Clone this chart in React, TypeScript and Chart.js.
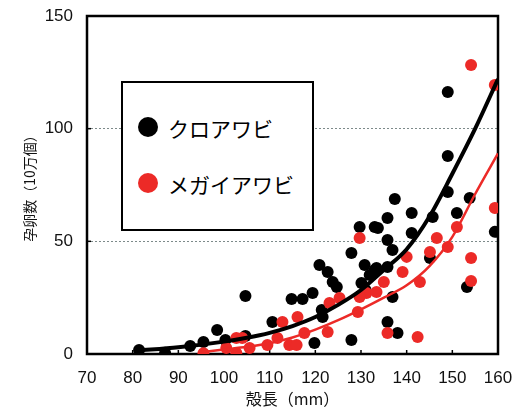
import React, { useEffect, useRef } from "react";
import { Chart, registerables } from "chart.js";

Chart.register(...registerables);

// クロアワビ (black) observations
const blackLength = [81.4, 87.1, 92.6, 95.5, 98.5, 100.3, 104.7, 104.7, 110.6, 114.8, 117.2, 119.4, 120.9, 122.7, 123.8, 124.7, 121.4, 121.6, 119.8, 127.9, 129.7, 133.0, 127.9, 130.8, 131.9, 133.4, 149.0, 149.0, 149.0, 137.4, 141.1, 135.8, 133.7, 145.7, 151.0, 153.8, 141.1, 135.8, 159.3, 136.9, 133.0, 135.8, 145.1, 153.2, 136.9, 135.8, 138.0, 130.1, 131.0];
const blackEggs = [1.8, 0.5, 3.6, 5.3, 10.7, 6.2, 25.7, 8.0, 14.2, 24.4, 24.4, 27.1, 39.5, 36.4, 32.0, 29.7, 19.5, 16.4, 4.9, 44.8, 56.4, 56.4, 6.2, 39.5, 35.1, 38.2, 116.3, 87.9, 71.9, 68.8, 62.6, 60.4, 55.9, 60.8, 62.6, 69.2, 53.7, 50.6, 54.2, 46.2, 37.3, 38.6, 42.6, 29.7, 25.3, 14.2, 9.3, 31.5, 28.4];

// メガイアワビ (red) observations
const redLength = [95.5, 100.5, 102.7, 102.7, 105.6, 104.0, 109.5, 111.7, 112.8, 114.3, 115.9, 116.1, 117.6, 122.7, 123.1, 125.3, 129.3, 131.2, 133.4, 129.7, 154.1, 159.3, 159.3, 151.0, 146.6, 149.0, 145.1, 140.0, 154.1, 139.1, 142.9, 135.0, 154.1, 135.8, 142.4, 129.7];
const redEggs = [0.3, 2.7, 0.4, 7.1, 2.7, 7.1, 4.0, 7.1, 14.2, 4.0, 4.0, 16.4, 9.3, 9.8, 22.6, 24.9, 18.6, 27.1, 27.5, 51.5, 128.3, 119.4, 64.8, 56.4, 51.5, 47.5, 45.3, 43.1, 42.6, 36.4, 32.0, 32.0, 32.4, 9.3, 7.5, 25.3];

// trend curves
const blackFitLength = [81, 90, 100, 105, 110, 115, 120, 125, 130, 135, 140, 145, 150, 155, 160];
const blackFitEggs = [1.5, 3.0, 5.5, 7.2, 9.4, 12.4, 16.4, 21.8, 28.4, 37.3, 46.5, 61, 80, 100, 122];
const redFitLength = [95, 100, 105, 110, 115, 120, 125, 130, 135, 140, 145, 150, 155, 160];
const redFitEggs = [0.8, 2, 3.2, 4.8, 7.3, 10.8, 15, 19.8, 25, 30.5, 39, 52, 71, 89];

const xTicks = [70, 80, 90, 100, 110, 120, 130, 140, 150, 160];
const yTicks = [0, 50, 100, 150];

const seriesNames = ["クロアワビ", "メガイアワビ"];
const xTitle = "殻長（mm）";
const yTitle = "孕卵数（10万個）";

const BLACK = "#000000";
const RED = "#ec2a27";

const pts = (xs: number[], ys: number[]) => xs.map((x, i) => ({ x, y: ys[i] }));

const framePlugin = {
  id: "frameAndInnerTicks",
  beforeDatasetsDraw(chart: any) {
    const { ctx, chartArea: a, scales } = chart;
    ctx.save();
    ctx.strokeStyle = "#000";
    ctx.lineWidth = 1.5;
    scales.x.ticks.forEach((t: any) => {
      const px = scales.x.getPixelForValue(t.value);
      ctx.beginPath();
      ctx.moveTo(px, a.bottom);
      ctx.lineTo(px, a.bottom - 4);
      ctx.stroke();
    });
    scales.y.ticks.forEach((t: any) => {
      const py = scales.y.getPixelForValue(t.value);
      ctx.beginPath();
      ctx.moveTo(a.left, py);
      ctx.lineTo(a.left + 4, py);
      ctx.stroke();
    });
    ctx.lineWidth = 2.5;
    ctx.strokeRect(a.left, a.top, a.right - a.left, a.bottom - a.top);
    ctx.restore();
  },
};

export default function App() {
  const ref = useRef<HTMLCanvasElement>(null);
  useEffect(() => {
    const chart = new Chart(ref.current as HTMLCanvasElement, {
      type: "scatter",
      data: {
        datasets: [
          {
            type: "line",
            data: pts(blackFitLength, blackFitEggs),
            borderColor: BLACK,
            borderWidth: 4,
            pointRadius: 0,
            fill: false,
            cubicInterpolationMode: "monotone",
          } as any,
          {
            type: "line",
            data: pts(redFitLength, redFitEggs),
            borderColor: RED,
            borderWidth: 2.5,
            pointRadius: 0,
            fill: false,
            cubicInterpolationMode: "monotone",
          } as any,
          {
            label: seriesNames[1],
            data: pts(redLength, redEggs),
            backgroundColor: RED,
            borderWidth: 0,
            pointRadius: 6,
          },
          {
            label: seriesNames[0],
            data: pts(blackLength, blackEggs),
            backgroundColor: BLACK,
            borderWidth: 0,
            pointRadius: 6,
          },
        ],
      },
      options: {
        responsive: false,
        devicePixelRatio: 1,
        animation: false,
        layout: { padding: { left: 0, right: 16, top: 16, bottom: 0 } },
        plugins: { legend: { display: false }, tooltip: { enabled: false } },
        scales: {
          x: {
            type: "linear",
            min: xTicks[0],
            max: xTicks[xTicks.length - 1],
            afterBuildTicks: (s: any) => {
              s.ticks = xTicks.map((v) => ({ value: v }));
            },
            afterFit: (s: any) => {
              s.height = 56;
              s.paddingLeft = 0;
              s.paddingRight = 0;
            },
            ticks: {
              font: { family: "'Liberation Sans', Arial, sans-serif", size: 17 },
              color: "#111",
              padding: 14,
              maxRotation: 0,
            },
            grid: { display: false, drawTicks: false },
            border: { display: false },
            title: {
              display: true,
              text: xTitle,
              color: "#111",
              font: { family: "'Noto Sans CJK JP', sans-serif", size: 16 },
              padding: { top: 0, bottom: 1 },
            },
          },
          y: {
            type: "linear",
            min: yTicks[0],
            max: yTicks[yTicks.length - 1],
            afterBuildTicks: (s: any) => {
              s.ticks = yTicks.map((v) => ({ value: v }));
            },
            afterFit: (s: any) => {
              s.width = 87;
              s.paddingTop = 0;
              s.paddingBottom = 0;
            },
            ticks: {
              font: { family: "'Liberation Sans', Arial, sans-serif", size: 17 },
              color: "#111",
              padding: 14,
            },
            grid: {
              drawTicks: false,
              lineWidth: 1,
              color: (c: any) =>
                c.tick && (c.tick.value === 50 || c.tick.value === 100) ? "#7d8a8a" : "rgba(0,0,0,0)",
            },
            border: { display: false, dash: [2, 2] },
            title: {
              display: true,
              text: yTitle,
              color: "#111",
              font: { family: "'Noto Sans CJK JP', sans-serif", size: 14 },
              padding: { top: 21, bottom: 0 },
            },
          },
        },
      },
      plugins: [framePlugin],
    } as any);
    return () => chart.destroy();
  }, []);

  const itemText: React.CSSProperties = {
    position: "absolute",
    left: 45,
    height: 30,
    lineHeight: "30px",
    fontSize: 21,
    fontFamily: "'Noto Sans CJK JP', sans-serif",
    color: "#000",
    whiteSpace: "nowrap",
  };
  const dot = (color: string, top: number): React.CSSProperties => ({
    position: "absolute",
    left: 15,
    top,
    width: 20,
    height: 20,
    borderRadius: "50%",
    background: color,
  });

  return (
    <div style={{ position: "absolute", left: 0, top: 0, width: 514, height: 410, background: "#fff" }}>
      <canvas ref={ref} width={514} height={410} style={{ display: "block", width: 514, height: 410 }} />
      <div
        style={{
          position: "absolute",
          left: 121,
          top: 81,
          width: 189,
          height: 146,
          border: "2px solid #000",
          background: "#fff",
        }}
      >
        <div style={dot(BLACK, 34)} />
        <div style={{ ...itemText, top: 30 }}>{seriesNames[0]}</div>
        <div style={dot(RED, 90)} />
        <div style={{ ...itemText, top: 86 }}>{seriesNames[1]}</div>
      </div>
    </div>
  );
}
